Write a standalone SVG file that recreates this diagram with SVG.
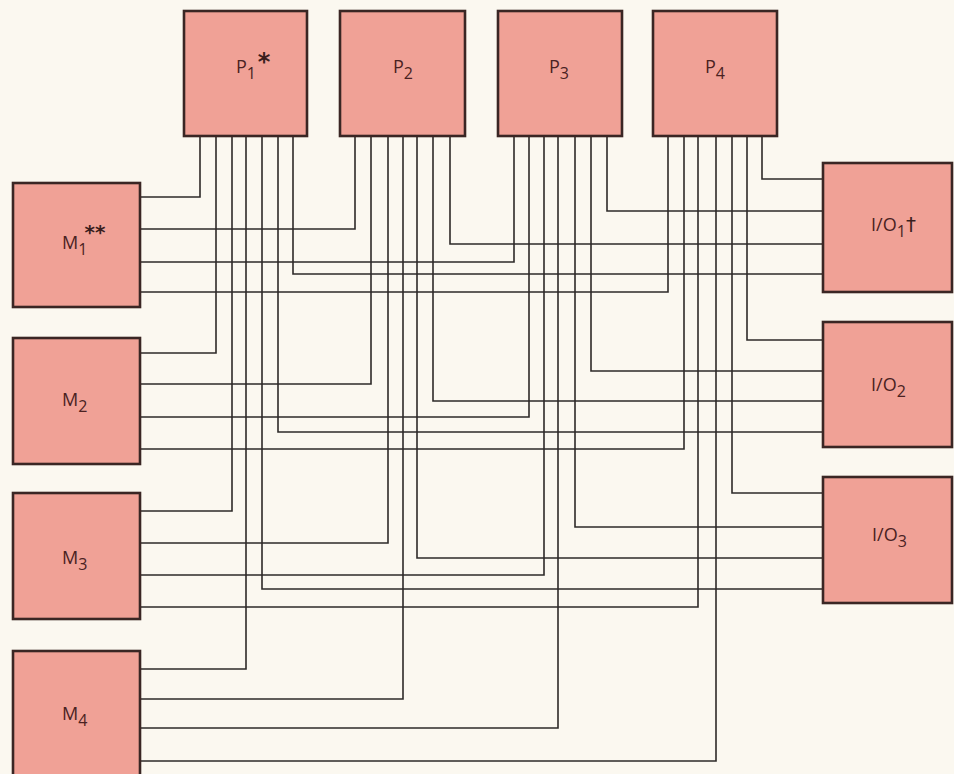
<svg xmlns="http://www.w3.org/2000/svg" width="954" height="774" viewBox="0 0 954 774">
<style>
.box{fill:#f0a196;stroke:#3a2624;stroke-width:2.6}
.lbl{font-family:"Open Sans","Noto Sans",sans-serif;font-size:18px;fill:#4a2222}
.sub{font-size:16px}
.mark{font-family:"DejaVu Sans","Liberation Sans",sans-serif;fill:#3a1e1e}
#connectors path{fill:none;stroke:#2e2a28;stroke-width:1.6}
</style>
<rect x="0" y="0" width="954" height="774" fill="#fbf8f0"/>
<g id="connectors">
<path d="M140,197 H200 V136"/>
<path d="M140,229 H355 V136"/>
<path d="M140,262 H514 V136"/>
<path d="M140,292 H668 V136"/>
<path d="M140,353 H216 V136"/>
<path d="M140,384 H371 V136"/>
<path d="M140,417 H529 V136"/>
<path d="M140,449 H684 V136"/>
<path d="M140,511 H232 V136"/>
<path d="M140,543 H388 V136"/>
<path d="M140,575 H544 V136"/>
<path d="M140,607 H698 V136"/>
<path d="M140,669 H246 V136"/>
<path d="M140,699 H403 V136"/>
<path d="M140,728 H558 V136"/>
<path d="M140,761 H716 V136"/>
<path d="M823,179 H762 V136"/>
<path d="M823,211 H607 V136"/>
<path d="M823,244 H450 V136"/>
<path d="M823,274 H293 V136"/>
<path d="M823,340 H747 V136"/>
<path d="M823,371 H591 V136"/>
<path d="M823,401 H433 V136"/>
<path d="M823,432 H278 V136"/>
<path d="M823,493 H732 V136"/>
<path d="M823,527 H575 V136"/>
<path d="M823,558 H417 V136"/>
<path d="M823,589 H262 V136"/>
</g>
<g id="P1"><rect class="box" x="184" y="11" width="123" height="125"/>
<text class="lbl" x="236" y="73">P<tspan class="sub" dy="6">1</tspan></text>
<text class="mark" x="264" y="70" font-size="24" font-weight="bold" text-anchor="middle">*</text></g>
<g id="P2"><rect class="box" x="340" y="11" width="125" height="125"/>
<text class="lbl" x="393" y="73">P<tspan class="sub" dy="6">2</tspan></text></g>
<g id="P3"><rect class="box" x="498" y="11" width="124" height="125"/>
<text class="lbl" x="549" y="73">P<tspan class="sub" dy="6">3</tspan></text></g>
<g id="P4"><rect class="box" x="653" y="11" width="124" height="125"/>
<text class="lbl" x="705" y="73">P<tspan class="sub" dy="6">4</tspan></text></g>
<g id="M1"><rect class="box" x="13" y="183" width="127" height="124"/>
<text class="lbl" x="62" y="249">M<tspan class="sub" dy="6">1</tspan></text>
<text class="mark" x="95" y="239" font-size="20" font-weight="bold" text-anchor="middle">**</text></g>
<g id="M2"><rect class="box" x="13" y="338" width="127" height="126"/>
<text class="lbl" x="62" y="406">M<tspan class="sub" dy="6">2</tspan></text></g>
<g id="M3"><rect class="box" x="13" y="493" width="127" height="126"/>
<text class="lbl" x="62" y="564">M<tspan class="sub" dy="6">3</tspan></text></g>
<g id="M4"><rect class="box" x="13" y="651" width="127" height="130"/>
<text class="lbl" x="62" y="720">M<tspan class="sub" dy="6">4</tspan></text></g>
<g id="IO1"><rect class="box" x="823" y="163" width="129" height="129"/>
<text class="lbl" x="871" y="231">I/O<tspan class="sub" dy="6">1</tspan></text>
<text class="mark" x="911" y="231" font-size="20" text-anchor="middle">†</text></g>
<g id="IO2"><rect class="box" x="823" y="322" width="129" height="125"/>
<text class="lbl" x="871" y="391">I/O<tspan class="sub" dy="6">2</tspan></text></g>
<g id="IO3"><rect class="box" x="823" y="477" width="129" height="126"/>
<text class="lbl" x="872" y="541">I/O<tspan class="sub" dy="6">3</tspan></text></g>
</svg>
